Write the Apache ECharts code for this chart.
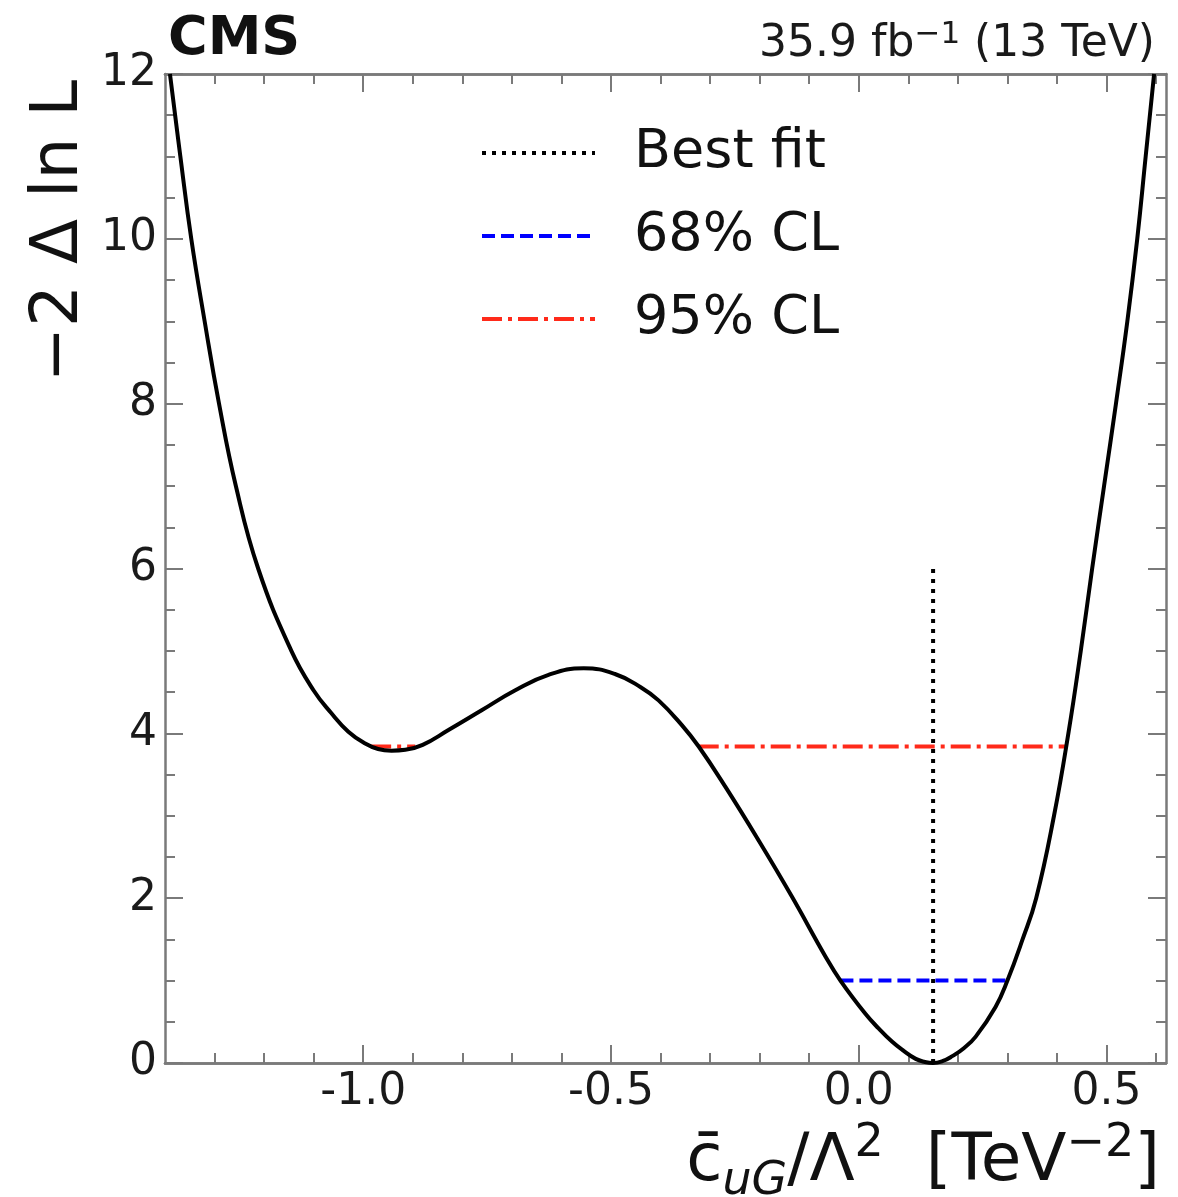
<!DOCTYPE html>
<html>
<head>
<meta charset="utf-8">
<script src="https://cdn.jsdelivr.net/npm/echarts@6/dist/echarts.min.js"></script>
<style>
  html, body { margin: 0; padding: 0; background: #fff; }
  #chart { width: 1178px; height: 1197px; }
</style>
</head>
<body>
<div id="chart"></div>
<script>
// likelihood scan
var scanX = [-1.390, -1.369, -1.347, -1.320, -1.291, -1.257, -1.212, -1.145, -1.100, -1.065,
  -1.030, -0.997, -0.970, -0.943, -0.915, -0.880, -0.828, -0.761, -0.694, -0.626,
  -0.555, -0.492, -0.440, -0.404, -0.357, -0.323, -0.269, -0.202, -0.135, -0.067,
  -0.037, 0.013, 0.040, 0.067, 0.090, 0.115, 0.132, 0.150, 0.170, 0.188, 0.212, 0.236, 0.276, 0.300, 0.330,
  0.358, 0.394, 0.423, 0.448, 0.471, 0.495, 0.519, 0.542, 0.562, 0.579, 0.596];
var scanY = [12.0, 11.0, 10.0, 9.0, 8.0, 7.0, 6.0, 5.0, 4.52, 4.25,
  4.02, 3.88, 3.81, 3.79, 3.80, 3.86, 4.04, 4.28, 4.52, 4.71,
  4.79, 4.72, 4.56, 4.40, 4.10, 3.84, 3.35, 2.70, 2.02, 1.29,
  1.00, 0.60, 0.42, 0.26, 0.15, 0.05, 0.015, 0.00, 0.025, 0.08, 0.18, 0.32, 0.68, 1.00, 1.49,
  2.00, 3.00, 4.00, 5.00, 6.00, 7.00, 8.00, 9.00, 10.00, 11.00, 12.00];

var bestFit = 0.150;
var bestFitTop = 6;
var level68 = 1.0;
var interval68 = [-0.037, 0.300];
var level95 = 3.84;
var interval95a = [-0.984, -0.895];
var interval95b = [-0.323, 0.419];

var xMajor = [-1.0, -0.5, 0.0, 0.5];
var xMinor = [-1.3, -1.2, -1.1, -1.0, -0.9, -0.8, -0.7, -0.6, -0.5, -0.4, -0.3, -0.2, -0.1,
  0.0, 0.1, 0.2, 0.3, 0.4, 0.5, 0.6];

var FONT = 'DejaVu Sans';
var FRAME = '#7a7a7a';

function frameAxis(pos, major, labels) {
  return {
    type: 'value', position: pos, min: -1.4, max: 0.62,
    axisLine: { show: true, onZero: false, lineStyle: { color: FRAME, width: 2.5 } },
    axisTick: { show: true, inside: true, length: major ? 18 : 10, customValues: major ? xMajor : xMinor,
      lineStyle: { color: FRAME, width: 2 } },
    axisLabel: { show: labels, customValues: xMajor, margin: 8, fontFamily: FONT, fontSize: 44, color: '#1a1a1a',
      formatter: function (v) { return v.toFixed(1); } },
    splitLine: { show: false }
  };
}

function yFrame(pos, labels) {
  return {
    type: 'value', position: pos, min: 0, max: 12, interval: 2,
    axisLine: { show: true, onZero: false, lineStyle: { color: FRAME, width: 2.5 } },
    axisTick: { show: true, inside: true, length: 18, lineStyle: { color: FRAME, width: 2 } },
    minorTick: { show: true, splitNumber: 4, length: 10, lineStyle: { color: FRAME, width: 2 } },
    axisLabel: { show: labels, margin: 8, fontFamily: FONT, fontSize: 44, color: '#1a1a1a' },
    splitLine: { show: false }
  };
}

var xAxes = [frameAxis('bottom', true, true), frameAxis('bottom', false, false),
  frameAxis('top', true, false), frameAxis('top', false, false)];
xAxes[0].name = '{n|c\u0304}{sub|uG}{n|/\u039b}{sup|2}{n|  [TeV}{sup|\u22122}{n|]}';
xAxes[0].nameLocation = 'end';
xAxes[0].nameGap = -6;
xAxes[0].nameTextStyle = {
  align: 'right', verticalAlign: 'top', padding: [58, 0, 0, 0],
  rich: {
    n: { fontFamily: FONT, fontSize: 66, lineHeight: 84, color: '#111' },
    sub: { fontFamily: FONT, fontSize: 46, fontStyle: 'italic', lineHeight: 40, verticalAlign: 'bottom', color: '#111' },
    sup: { fontFamily: FONT, fontSize: 46, lineHeight: 44, verticalAlign: 'top', color: '#111' }
  }
};

var yAxes = [yFrame('left', true), yFrame('right', false)];
yAxes[0].name = '\u22122 \u0394 ln L';
yAxes[0].nameLocation = 'end';
yAxes[0].nameRotate = 90;
yAxes[0].nameGap = -6;
yAxes[0].nameTextStyle = { fontFamily: FONT, fontSize: 66, color: '#111', align: 'right', verticalAlign: 'bottom',
  padding: [0, 0, 72, 0] };

var chart = echarts.init(document.getElementById('chart'));
chart.setOption({
  animation: false,
  backgroundColor: '#fff',
  title: [
    { text: 'CMS', left: 163, top: 8, textStyle: { fontFamily: FONT, fontSize: 54, fontWeight: 'bold', color: '#111' } },
    { text: '{n|35.9 fb}{s|\u22121}{n| (13 TeV)}', right: 18, top: 14,
      textStyle: { fontWeight: 'normal', rich: {
        n: { fontFamily: FONT, fontSize: 44, fontWeight: 'normal', lineHeight: 52, color: '#1a1a1a' },
        s: { fontFamily: FONT, fontSize: 31, fontWeight: 'normal', lineHeight: 36, verticalAlign: 'top', color: '#1a1a1a' }
      } } }
  ],
  grid: { left: 165, right: 12, top: 74, bottom: 134, containLabel: false, outerBoundsMode: 'none' },
  legend: {
    orient: 'vertical', left: 480, top: 126, padding: 0, itemWidth: 113, itemHeight: 14, itemGap: 29,
    data: ['Best fit', '68% CL', '95% CL'],
    itemStyle: { opacity: 0 },
    lineStyle: { width: 4 },
    textStyle: { fontFamily: FONT, fontSize: 54, lineHeight: 54, color: '#111', padding: [0, 0, 0, 34] }
  },
  xAxis: xAxes,
  yAxis: yAxes,
  series: [
    { name: 'scan', type: 'line', symbol: 'none', smooth: 0.45, z: 5,
      lineStyle: { color: '#000', width: 4 },
      data: scanX.map(function (x, i) { return [x, scanY[i]]; }) },
    { name: 'Best fit', type: 'line', symbol: 'none', color: '#000', z: 4,
      lineStyle: { color: '#000', width: 4, type: [4, 6] },
      data: [[bestFit, 0], [bestFit, bestFitTop]] },
    { name: '68% CL', type: 'line', symbol: 'none', color: '#0000ff', z: 4,
      lineStyle: { color: '#0000ff', width: 4, type: [13, 6] },
      data: [[interval68[0], level68], [interval68[1], level68]] },
    { name: '95% CL', type: 'line', symbol: 'none', color: '#ff2a1a', z: 4,
      lineStyle: { color: '#ff2a1a', width: 4, type: [20, 6, 4, 6] },
      data: [[interval95a[0], level95], [interval95a[1], level95]] },
    { name: '95% CL', type: 'line', symbol: 'none', color: '#ff2a1a', z: 4,
      lineStyle: { color: '#ff2a1a', width: 4, type: [20, 6, 4, 6] },
      data: [[interval95b[0], level95], [interval95b[1], level95]] }
  ]
});
</script>
</body>
</html>
